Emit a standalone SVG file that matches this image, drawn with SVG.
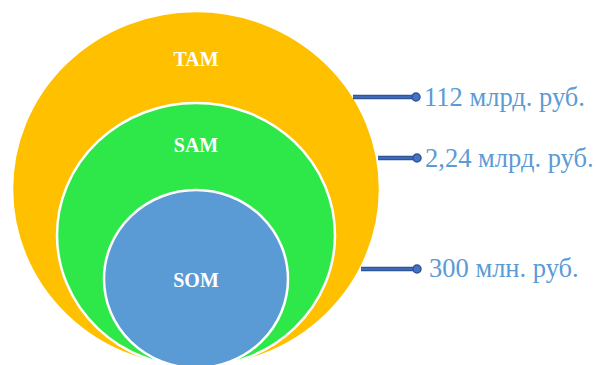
<svg xmlns="http://www.w3.org/2000/svg" width="599" height="365" viewBox="0 0 599 365">
<style>
.ring{stroke:#FFFFFF;stroke-width:2.5}
.lbl{font-family:"Liberation Serif",serif;font-weight:bold;font-size:20px;fill:#FFFFFF;text-anchor:middle}
.val{font-family:"Liberation Serif",serif;font-size:26.5px;fill:#5B9BD5}
.conn{stroke:#2F5597;stroke-width:4.5;stroke-linecap:butt}
.connc{stroke:#4472C4;stroke-width:1.5}
.dot{fill:#4472C4;stroke:#2F5597;stroke-width:1.5}
</style>
<rect width="599" height="365" fill="#FFFFFF"/>
<g id="tam">
<ellipse cx="196" cy="189" rx="184" ry="178" fill="#FFC000" class="ring"/>
<text x="196" y="66" class="lbl">TAM</text>
</g>
<g id="sam">
<ellipse cx="196" cy="235" rx="139" ry="132" fill="#2EE84A" class="ring"/>
<text x="196" y="152" class="lbl">SAM</text>
</g>
<g id="som">
<ellipse cx="196" cy="279" rx="92" ry="89" fill="#5B9BD5" class="ring"/>
<text x="196" y="287" class="lbl">SOM</text>
</g>
<g id="connectors">
<line x1="353" y1="97" x2="416" y2="97" class="conn"/>
<line x1="353" y1="97" x2="416" y2="97" class="connc"/>
<circle cx="416" cy="97" r="4" class="dot"/>
<line x1="378" y1="158" x2="417" y2="158" class="conn"/>
<line x1="378" y1="158" x2="417" y2="158" class="connc"/>
<circle cx="417" cy="158" r="4" class="dot"/>
<line x1="361" y1="269" x2="417" y2="269" class="conn"/>
<line x1="361" y1="269" x2="417" y2="269" class="connc"/>
<circle cx="417" cy="269" r="4" class="dot"/>
</g>
<g id="values">
<text x="424" y="106" class="val">112 млрд. руб.</text>
<text x="425" y="167" class="val">2,24 млрд. руб.</text>
<text x="429" y="277" class="val">300 млн. руб.</text>
</g>
</svg>
